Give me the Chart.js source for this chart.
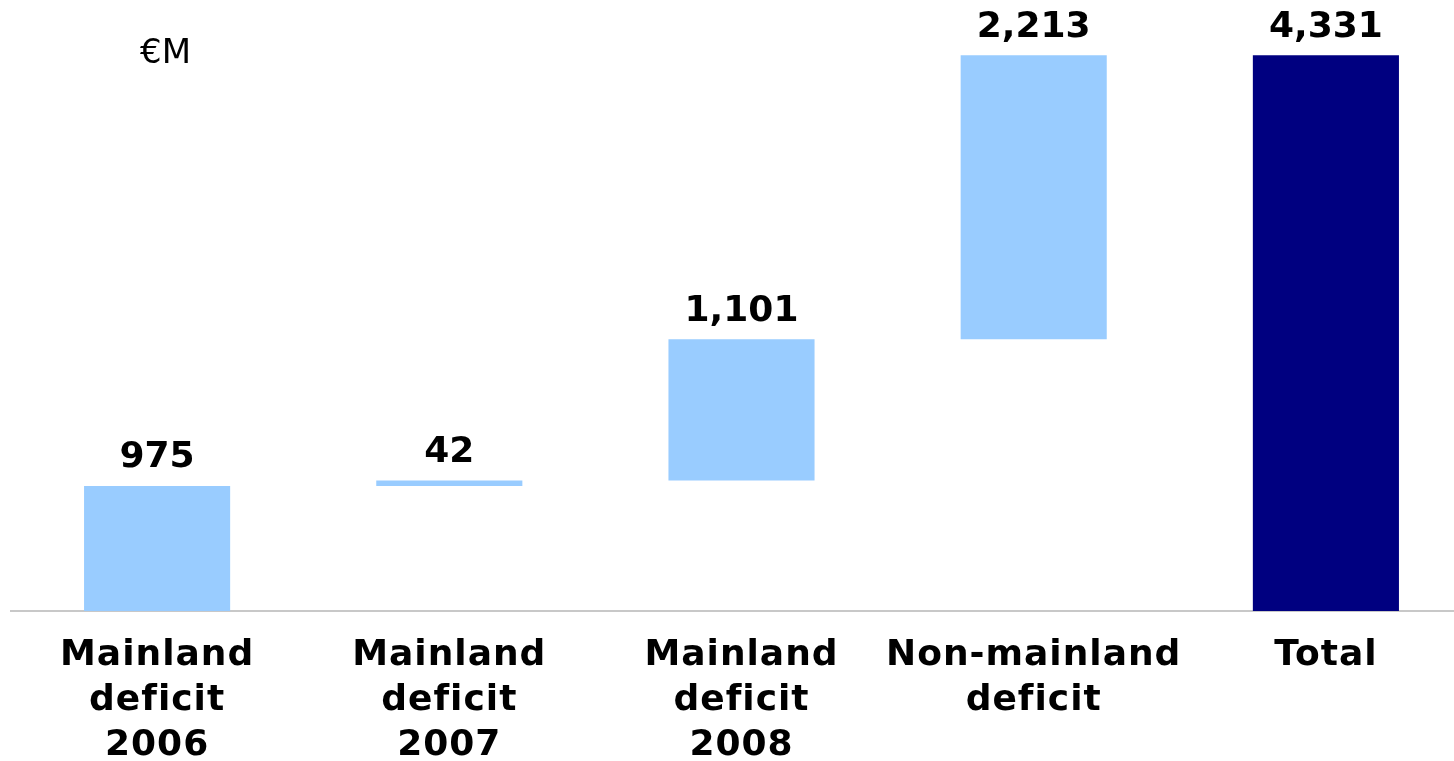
<!DOCTYPE html>
<html>
<head>
<meta charset="utf-8">
<script src="https://cdn.jsdelivr.net/npm/chart.js@4"></script>
<style>
  html, body { margin: 0; padding: 0; background: #fff; overflow: hidden; }
  #wrap { width: 1454px; height: 761px; overflow: hidden; }
</style>
</head>
<body>
<div id="wrap"><canvas id="my-chart" width="1472" height="761"></canvas></div>
<script>
var categories = [
    ['Mainland', 'deficit', '2006'],
    ['Mainland', 'deficit', '2007'],
    ['Mainland', 'deficit', '2008'],
    ['Non-mainland', 'deficit'],
    ['Total']
];
var values = [975, 42, 1101, 2213, 4331];
var isTotal = [false, false, false, false, true];
var valueLabels = ['975', '42', '1,101', '2,213', '4,331'];
var unitLabel = '€M';

// floating bars: each step starts where the previous one ended, total starts at 0
var bars = [];
var running = 0;
for (var i = 0; i < values.length; i++) {
    if (isTotal[i]) {
        bars.push([0, values[i]]);
    } else {
        bars.push([running, running + values[i]]);
        running += values[i];
    }
}

var labelPlugin = {
    id: 'labels',
    beforeDraw: function (chart) {
        // slightly wider tracking like the original labels
        chart.ctx.letterSpacing = '1px';
    },
    afterDatasetsDraw: function (chart) {
        var ctx = chart.ctx;
        var meta = chart.getDatasetMeta(0);
        ctx.save();
        ctx.letterSpacing = '0px';
        ctx.fillStyle = '#000';
        ctx.textAlign = 'center';
        ctx.textBaseline = 'bottom';
        ctx.font = 'bold 36px "DejaVu Sans"';
        meta.data.forEach(function (bar, i) {
            ctx.fillText(valueLabels[i], bar.x, bar.y - 10);
        });
        ctx.font = '34px "DejaVu Sans"';
        ctx.textAlign = 'left';
        ctx.textBaseline = 'alphabetic';
        ctx.fillText(unitLabel, 140, 63);
        ctx.restore();
    }
};

var ctx = document.getElementById('my-chart').getContext('2d');

var myChart = new Chart(ctx, {
    type: 'bar',
    data: {
        labels: categories,
        datasets: [{
            data: bars,
            backgroundColor: isTotal.map(function (t) { return t ? '#000080' : '#99CCFF'; }),
            borderWidth: 0,
            barPercentage: 0.5,
            categoryPercentage: 1
        }]
    },
    options: {
        responsive: false,
        animation: false,
        layout: { padding: { top: 8, left: 11, right: 0, bottom: 0 } },
        plugins: {
            legend: { display: false },
            tooltip: { enabled: false }
        },
        scales: {
            x: {
                grid: { display: false },
                border: { color: '#C8C8C8', width: 2 },
                ticks: {
                    color: '#000',
                    padding: 14,
                    maxRotation: 0,
                    autoSkip: false,
                    font: { family: 'DejaVu Sans', size: 36, weight: 'bold', lineHeight: 1.25 }
                },
                afterFit: function (scale) { scale.height = 150; }
            },
            y: {
                display: false,
                min: 0,
                max: 4700
            }
        }
    },
    plugins: [labelPlugin]
});
</script>
</body>
</html>
